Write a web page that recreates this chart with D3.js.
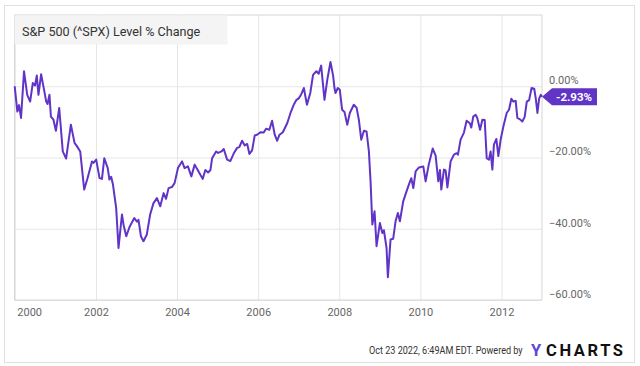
<!DOCTYPE html>
<html><head><meta charset="utf-8">
<script src="https://cdn.jsdelivr.net/npm/d3@7"></script>
<style>
html,body{margin:0;padding:0;background:#fff;}
svg{display:block;font-family:Roboto,"Open Sans",sans-serif;}
</style></head>
<body><svg id="c" width="640" height="366"></svg>
<script>
const titleText = "S&P 500 (^SPX) Level % Change";
const dates = ["1999-12-31","2000-01-24","2000-02-08","2000-02-26","2000-03-24","2000-04-22","2000-05-18","2000-06-11","2000-07-01","2000-07-17","2000-08-01","2000-08-25","2000-10-10","2000-10-22","2000-11-08","2000-11-21","2000-12-14","2001-01-05","2001-02-04","2001-03-08","2001-04-07","2001-05-20","2001-06-22","2001-07-13","2001-08-12","2001-09-17","2001-10-17","2001-11-26","2001-12-10","2002-01-03","2002-02-02","2002-02-24","2002-03-17","2002-04-17","2002-05-02","2002-05-18","2002-06-03","2002-07-02","2002-07-23","2002-08-23","2002-09-07","2002-10-01","2002-10-30","2002-12-12","2003-01-05","2003-01-19","2003-02-10","2003-03-05","2003-04-04","2003-05-04","2003-06-03","2003-07-04","2003-08-03","2003-09-02","2003-09-24","2003-10-17","2003-11-16","2003-12-10","2004-01-10","2004-02-15","2004-03-09","2004-04-08","2004-05-09","2004-06-08","2004-07-14","2004-08-19","2004-09-12","2004-10-07","2004-10-28","2004-11-12","2004-12-18","2005-01-05","2005-02-04","2005-02-25","2005-03-27","2005-04-25","2005-05-25","2005-06-25","2005-07-15","2005-08-09","2005-09-02","2005-09-24","2005-10-14","2005-11-07","2005-12-01","2005-12-22","2006-01-21","2006-02-20","2006-03-13","2006-04-12","2006-05-06","2006-05-30","2006-06-21","2006-07-12","2006-08-11","2006-09-20","2006-10-19","2006-11-17","2006-12-12","2007-01-01","2007-01-23","2007-02-16","2007-03-16","2007-04-15","2007-05-10","2007-06-09","2007-06-30","2007-07-22","2007-08-21","2007-09-15","2007-10-14","2007-11-07","2007-11-19","2007-11-28","2007-12-19","2008-01-06","2008-01-27","2008-02-17","2008-03-13","2008-04-05","2008-05-11","2008-06-05","2008-06-26","2008-07-17","2008-08-10","2008-09-03","2008-09-24","2008-10-09","2008-10-25","2008-11-14","2008-12-02","2009-01-01","2009-01-23","2009-02-06","2009-03-02","2009-03-14","2009-04-07","2009-05-01","2009-05-22","2009-06-12","2009-06-30","2009-07-30","2009-08-29","2009-09-19","2009-10-11","2009-10-29","2009-11-19","2009-12-19","2010-01-27","2010-02-17","2010-03-17","2010-04-22","2010-05-18","2010-06-11","2010-06-26","2010-07-08","2010-08-01","2010-08-16","2010-09-01","2010-09-30","2010-10-30","2010-11-23","2010-12-05","2010-12-29","2011-01-28","2011-02-21","2011-03-22","2011-04-04","2011-04-22","2011-05-13","2011-05-28","2011-06-22","2011-07-13","2011-08-03","2011-08-21","2011-09-10","2011-09-25","2011-10-11","2011-10-25","2011-11-16","2011-12-04","2011-12-24","2012-01-18","2012-02-17","2012-03-09","2012-03-30","2012-04-17","2012-05-08","2012-05-23","2012-06-16","2012-07-07","2012-07-28","2012-08-16","2012-09-06","2012-09-28","2012-10-22","2012-11-05","2012-11-20","2012-12-05","2012-12-20","2012-12-31"];
const values = [0,-7.1,-5.3,-8.9,4.2,-2.4,-4.3,0.9,0.2,3.0,-2.4,3.4,-4.3,-5.0,-2.4,-8.5,-9.4,-12.5,-6.1,-18.3,-20.3,-10.8,-15.9,-16.8,-18.3,-29.0,-25.8,-21.1,-21.5,-20.6,-25.8,-26.0,-20.2,-23.0,-26.2,-25.4,-27.6,-34.2,-45.4,-36.0,-39.0,-42.1,-39.5,-37.0,-38.0,-37.5,-42.1,-43.5,-41.6,-36.0,-32.8,-31.4,-33.7,-30.0,-31.6,-28.6,-28.3,-27.2,-22.9,-21.1,-23.0,-22.5,-25.3,-22.0,-24.0,-26.0,-23.5,-24.2,-23.5,-20.2,-18.3,-18.7,-18.3,-17.6,-20.6,-21.0,-18.9,-17.3,-17.1,-15.3,-16.6,-16.2,-19.0,-18.0,-13.8,-13.6,-12.9,-13.0,-11.9,-12.2,-9.7,-13.6,-15.3,-13.6,-12.9,-10.3,-7.5,-5.2,-3.8,-3.4,-2.3,-0.5,-5.2,-1.9,3.2,4.2,3.5,5.8,-3.8,1.8,6.8,2.9,-0.5,-1.9,-0.5,-1.0,-6.6,-7.2,-10.8,-7.5,-5.2,-6.0,-9.5,-15.0,-12.5,-12.7,-18.3,-26.7,-38.8,-35.1,-44.9,-38.4,-41.2,-40.4,-45.4,-53.6,-43.0,-42.8,-37.9,-35.6,-37.9,-32.3,-29.5,-27.6,-25.8,-28.6,-23.9,-22.8,-22.5,-26.7,-22.0,-17.5,-19.5,-26.7,-23.5,-29.0,-23.4,-23.6,-28.4,-21.1,-19.2,-18.8,-19.2,-15.0,-13.0,-9.7,-10.4,-11.6,-8.5,-8.0,-8.9,-12.2,-9.4,-9.5,-20.2,-20.6,-18.3,-23.4,-16.4,-14.8,-19.6,-15.1,-11.3,-7.5,-6.6,-3.5,-4.3,-4.1,-8.9,-9.3,-9.9,-8.6,-4.3,-3.9,-0.5,-0.7,-3.5,-7.5,-3.5,-2.4,-2.93];
const yTicks = [0,-20,-40,-60];
const xTickYears = [2000,2002,2004,2006,2008,2010,2012];
const lastLabel = "-2.93%";
const footerText = "Oct 23 2022, 6:49AM EDT.  Powered by";

const parse = d3.timeParse("%Y-%m-%d");
const data = dates.map((d,i)=>({date:parse(d), v:values[i]}));

const svg = d3.select("#c");
const L=14.5, R=542, T=15, B=300;
const x = d3.scaleTime().domain([parse("1999-12-31"), parse("2012-12-31")]).range([14.7, R]);
const y = d3.scaleLinear().domain([-60,20]).range([B,T]);

// outer border
svg.append("rect").attr("x",4.5).attr("y",5.5).attr("width",630).attr("height",357)
  .attr("fill","none").attr("stroke","#e0e0e0");

// grid: x
const xg = svg.append("g").attr("transform",`translate(0,${B})`)
  .call(d3.axisBottom(x).tickValues(xTickYears.map(yr=>new Date(yr,0,1))).tickSize(-(B-T)).tickFormat(""));
xg.select(".domain").remove();
xg.selectAll("line").attr("stroke","#e6e6e6");
// grid: y
const yg = svg.append("g").attr("transform",`translate(${L},0)`)
  .call(d3.axisLeft(y).tickValues(yTicks).tickSize(-(R-L)).tickFormat(""));
yg.select(".domain").remove();
yg.selectAll("line").attr("stroke","#e6e6e6");

// frame
svg.append("path").attr("d",`M${L},${T}V${B}H${R}V${T}Z`).attr("fill","none").attr("stroke","#d6d6d6");

// title box
svg.append("rect").attr("x",14.5).attr("y",15.5).attr("width",213).attr("height",29).attr("fill","#f4f4f4");
svg.append("text").attr("x",22).attr("y",35.5).attr("font-size",12.6).attr("fill","#333").text(titleText);

// line
svg.append("path").datum(data)
  .attr("d", d3.line().x(d=>x(d.date)).y(d=>y(d.v)))
  .attr("fill","none").attr("stroke","#6034c6").attr("stroke-width",2).attr("stroke-linejoin","round");

// y labels (right)
const ya = svg.append("g").attr("transform",`translate(${R},0)`)
  .call(d3.axisRight(y).tickValues(yTicks).tickSize(0).tickPadding(7).tickFormat(d=>d3.format(".2f")(d)+"%"));
ya.select(".domain").remove();
ya.selectAll("text").attr("font-family","Roboto").attr("font-size",11).attr("fill","#666").attr("dy","-0.25em");

// x labels
const xa = svg.append("g").attr("transform",`translate(0,${B})`)
  .call(d3.axisBottom(x).tickValues(xTickYears.map(yr=>new Date(yr,0,1))).tickSize(0).tickPadding(8).tickFormat(d3.timeFormat("%Y")));
xa.select(".domain").remove();
xa.selectAll("text").attr("font-family","Roboto").attr("font-size",11).attr("fill","#666");
xa.selectAll(".tick").filter(d=>d.getFullYear()===2000).select("text").attr("text-anchor","start").attr("x",2);

// last value flag
const last = data[data.length-1];
const fy = y(last.v), fx = x(last.date);
svg.append("path").attr("d",`M${fx},${fy}L${fx+10},${fy-8.5}H${fx+55}V${fy+8.5}H${fx+10}Z`).attr("fill","#6034c6");
svg.append("text").attr("x",fx+32).attr("y",fy+4).attr("text-anchor","middle").attr("font-size",11.5)
  .attr("font-weight","bold").attr("fill","#fff").attr("font-family","Roboto").text(lastLabel);

// footer (horizontally condensed via transform)
const fg = svg.append("g");
const ft = fg.append("text").attr("x",0).attr("y",0).attr("font-size",10.5).attr("fill","#333").text(footerText);
const natural = ft.node().getComputedTextLength();
fg.attr("transform",`translate(369,354) scale(${154/natural},1)`);
svg.append("text").attr("x",531).attr("y",356).attr("font-size",16.5).attr("font-weight","bold")
  .attr("fill","#5a48d8").text("Y");
svg.append("text").attr("x",546).attr("y",356).attr("font-size",16.5).attr("font-weight","bold")
  .attr("fill","#111").attr("textLength",77).attr("lengthAdjust","spacing").text("CHARTS");
</script></body></html>
